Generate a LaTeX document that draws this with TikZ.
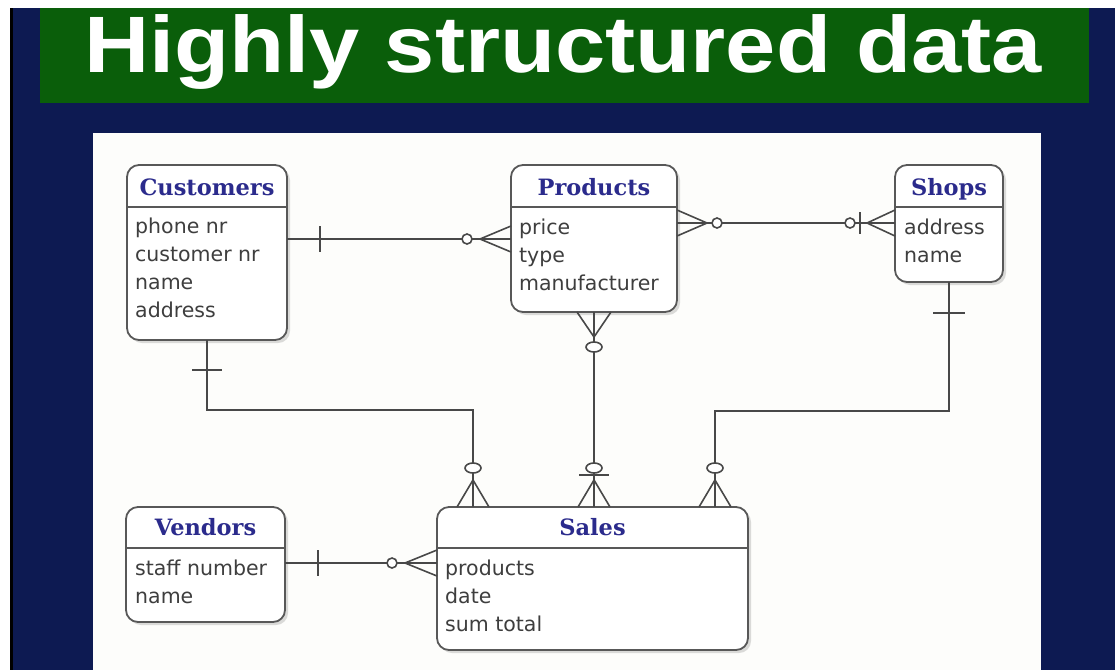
\documentclass[tikz,border=0pt]{standalone}
\usepackage{fontspec}
\usetikzlibrary{calc,shadows}
\newfontfamily\headfont{Liberation Sans}
\newfontfamily\entfont{DejaVu Serif}
\newfontfamily\attfont{DejaVu Sans}
\definecolor{slidenavy}{RGB}{13,26,82}
\definecolor{bannergreen}{RGB}{10,94,10}
\definecolor{paper}{RGB}{253,253,251}
\definecolor{boxgray}{RGB}{88,88,88}
\definecolor{linegray}{RGB}{72,72,72}
\definecolor{titleblue}{RGB}{43,43,140}
\definecolor{attrgray}{RGB}{62,62,62}

\begin{document}
\begin{tikzpicture}[x=1pt, y=-1pt,
    entity/.style={draw=boxgray, line width=1.8pt, rounded corners=12pt, fill=white, outer sep=0pt,
      drop shadow={shadow xshift=3pt, shadow yshift=-3pt, fill=black!40, opacity=.35}},
    sepline/.style={draw=boxgray, line width=1.5pt},
    enttitle/.style={font=\entfont\bfseries\fontsize{22.5}{26}\selectfont, text=titleblue, anchor=base, inner sep=0pt},
    attr/.style={font=\attfont\fontsize{20.5}{24}\selectfont, text=attrgray, anchor=base west, inner sep=0pt},
    rel/.style={draw=linegray, line width=1.6pt},
  ]
  \useasboundingbox (0,0) rectangle (1115,670);

  % slide background
  \fill[white] (0,0) rectangle (1115,670);
  \fill[black] (10,8) rectangle (13,670);
  \fill[slidenavy] (13,8) rectangle (1115,670);
  \fill[bannergreen] (40,8) rectangle (1089,103);
  \node[anchor=base west, inner sep=0pt, text=white, font=\headfont\bfseries\fontsize{80}{90}\selectfont] (title) at (84,72) {\scalebox{1.128}[1]{Highly structured data}};
  \fill[paper] (93,133) rectangle (1041,670);

  % entities
  \node[entity, minimum width=160pt, minimum height=175pt] (cust) at (207,252.5) {};
  \draw[sepline] ([yshift=-42pt]cust.north west) -- ([yshift=-42pt]cust.north east);
  \node[enttitle] (cust-t) at ([yshift=-30pt]cust.north) {Customers};
  \node[attr] (cust-a1) at ([xshift=8pt,yshift=-68pt]cust.north west) {phone nr};
  \node[attr] (cust-a2) at ([xshift=8pt,yshift=-96pt]cust.north west) {customer nr};
  \node[attr] (cust-a3) at ([xshift=8pt,yshift=-124pt]cust.north west) {name};
  \node[attr] (cust-a4) at ([xshift=8pt,yshift=-152pt]cust.north west) {address};

  \node[entity, minimum width=166pt, minimum height=147pt] (prod) at (594,238.5) {};
  \draw[sepline] ([yshift=-42pt]prod.north west) -- ([yshift=-42pt]prod.north east);
  \node[enttitle] (prod-t) at ([yshift=-30pt]prod.north) {Products};
  \node[attr] (prod-a1) at ([xshift=8pt,yshift=-69pt]prod.north west) {price};
  \node[attr] (prod-a2) at ([xshift=8pt,yshift=-97pt]prod.north west) {type};
  \node[attr] (prod-a3) at ([xshift=8pt,yshift=-125pt]prod.north west) {manufacturer};

  \node[entity, minimum width=108pt, minimum height=117pt] (shops) at (949,223.5) {};
  \draw[sepline] ([yshift=-42pt]shops.north west) -- ([yshift=-42pt]shops.north east);
  \node[enttitle] (shops-t) at ([yshift=-30pt]shops.north) {Shops};
  \node[attr] (shops-a1) at ([xshift=9pt,yshift=-69pt]shops.north west) {address};
  \node[attr] (shops-a2) at ([xshift=9pt,yshift=-97pt]shops.north west) {name};

  \node[entity, minimum width=159pt, minimum height=115pt] (vend) at (205.5,564.5) {};
  \draw[sepline] ([yshift=-41pt]vend.north west) -- ([yshift=-41pt]vend.north east);
  \node[enttitle] (vend-t) at ([yshift=-28pt]vend.north) {Vendors};
  \node[attr] (vend-a1) at ([xshift=9pt,yshift=-68pt]vend.north west) {staff number};
  \node[attr] (vend-a2) at ([xshift=9pt,yshift=-96pt]vend.north west) {name};

  \node[entity, minimum width=311pt, minimum height=143pt] (sales) at (592.5,578.5) {};
  \draw[sepline] ([yshift=-41pt]sales.north west) -- ([yshift=-41pt]sales.north east);
  \node[enttitle] (sales-t) at ([yshift=-28pt]sales.north) {Sales};
  \node[attr] (sales-a1) at ([xshift=8pt,yshift=-68pt]sales.north west) {products};
  \node[attr] (sales-a2) at ([xshift=8pt,yshift=-96pt]sales.north west) {date};
  \node[attr] (sales-a3) at ([xshift=8pt,yshift=-124pt]sales.north west) {sum total};

  % customers -- products
  \draw[rel] ([yshift=-74pt]cust.north east) coordinate (c1a) -- ([yshift=-74pt]prod.north west) coordinate (c1b);
  \draw[rel] ($(c1a)+(33,-13)$) -- ++(0,26);
  \draw[rel] ($(c1b)+(0,-13)$) -- ++(-31,13) -- ++(31,13);
  \draw[rel, fill=white] ($(c1b)+(-44,0)$) circle[radius=5pt];

  % products -- shops
  \draw[rel] ([yshift=-58pt]prod.north east) coordinate (c2a) -- ([yshift=-58pt]shops.north west) coordinate (c2b);
  \draw[rel] ($(c2a)+(0,-13)$) -- ++(30,13) -- ++(-30,13);
  \draw[rel, fill=white] ($(c2a)+(40,0)$) circle[radius=5pt];
  \draw[rel] ($(c2b)+(0,-13)$) -- ++(-28,13) -- ++(28,13);
  \draw[rel, fill=white] ($(c2b)+(-45,0)$) circle[radius=5pt];
  \draw[rel] ($(c2b)+(-35,-11)$) -- ++(0,22);

  % products -- sales
  \draw[rel] (prod.south) coordinate (c3a) -- (prod.south |- sales.north) coordinate (c3b);
  \draw[rel] ($(c3a)+(-17,0)$) -- ++(17,25) -- ++(17,-25);
  \draw[rel, fill=white] ($(c3a)+(0,35)$) ellipse[x radius=8pt, y radius=5pt];
  \draw[rel] ($(c3b)+(-16,0)$) -- ++(16,-27) -- ++(16,27);
  \draw[rel] ($(c3b)+(-15,-32)$) -- ++(30,0);
  \draw[rel, fill=white] ($(c3b)+(0,-39)$) ellipse[x radius=8pt, y radius=5pt];

  % customers -- sales
  \draw[rel] (cust.south) coordinate (c4a) -- ++(0,70) -| ([xshift=36pt]sales.north west) coordinate (c4b);
  \draw[rel] ($(c4a)+(-15,30)$) -- ++(30,0);
  \draw[rel] ($(c4b)+(-16,0)$) -- ++(16,-27) -- ++(16,27);
  \draw[rel, fill=white] ($(c4b)+(0,-39)$) ellipse[x radius=8pt, y radius=5pt];

  % shops -- sales
  \draw[rel] (shops.south) coordinate (c5a) -- ++(0,129) -| ([xshift=-33pt]sales.north east) coordinate (c5b);
  \draw[rel] ($(c5a)+(-16,31)$) -- ++(32,0);
  \draw[rel] ($(c5b)+(-16,0)$) -- ++(16,-27) -- ++(16,27);
  \draw[rel, fill=white] ($(c5b)+(0,-39)$) ellipse[x radius=8pt, y radius=5pt];

  % vendors -- sales
  \draw[rel] ([yshift=-56pt]vend.north east) coordinate (c6a) -- ([yshift=-56pt]sales.north west) coordinate (c6b);
  \draw[rel] ($(c6a)+(33,-13)$) -- ++(0,26);
  \draw[rel] ($(c6b)+(0,-13)$) -- ++(-32,13) -- ++(32,13);
  \draw[rel, fill=white] ($(c6b)+(-45,0)$) circle[radius=5pt];
\end{tikzpicture}
\end{document}
